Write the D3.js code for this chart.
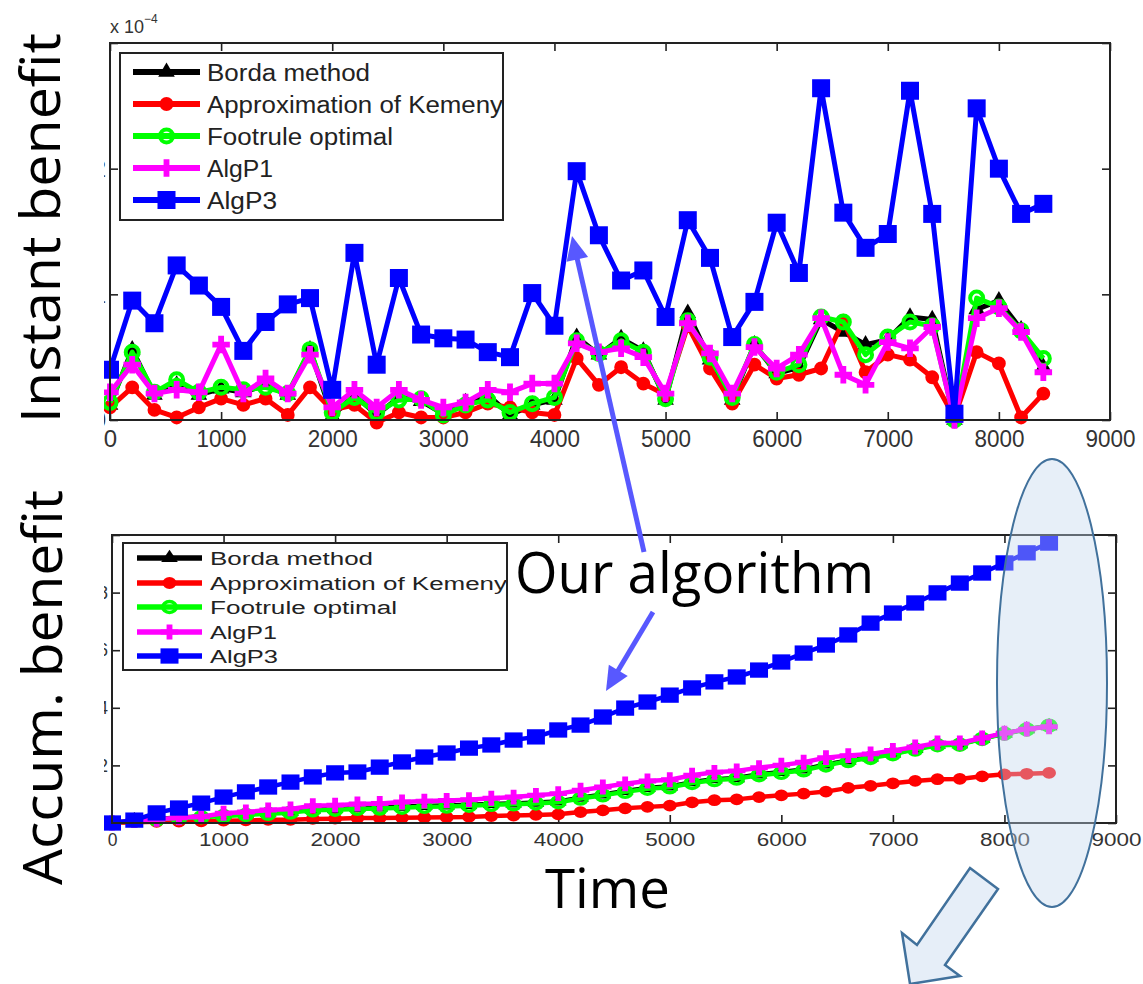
<!DOCTYPE html>
<html>
<head>
<meta charset="utf-8">
<script src="https://cdn.jsdelivr.net/npm/d3@7"></script>
<style>
  body { margin: 0; background: #fff; }
  svg { display: block; }
</style>
</head>
<body>
<svg id="chart" width="1143" height="984"></svg>
<script>
// time steps (x)
const times = [0, 200, 400, 600, 800, 1000, 1200, 1400, 1600, 1800, 2000, 2200, 2400, 2600, 2800,
  3000, 3200, 3400, 3600, 3800, 4000, 4200, 4400, 4600, 4800, 5000, 5200, 5400, 5600, 5800,
  6000, 6200, 6400, 6600, 6800, 7000, 7200, 7400, 7600, 7800, 8000, 8200, 8400]
const xTicks = [0, 1000, 2000, 3000, 4000, 5000, 6000, 7000, 8000, 9000]

const seriesNames = ['Borda method', 'Approximation of Kemeny', 'Footrule optimal', 'AlgP1', 'AlgP3']

// instant benefit (x 10^-4)
const instBorda = [0.12, 0.56, 0.20, 0.28, 0.20, 0.25, 0.22, 0.28, 0.20, 0.56, 0.03, 0.20, 0.04, 0.18, 0.15,
  0.05, 0.14, 0.20, 0.04, 0.12, 0.16, 0.66, 0.52, 0.65, 0.55, 0.16, 0.85, 0.48, 0.16, 0.60,
  0.37, 0.42, 0.80, 0.70, 0.60, 0.64, 0.82, 0.80, 0.00, 0.88, 0.95, 0.72, 0.42]
const instKemeny = [0.10, 0.26, 0.08, 0.02, 0.10, 0.17, 0.12, 0.17, 0.04, 0.26, 0.08, 0.12, -0.02, 0.06, 0.02,
  0.02, 0.06, 0.13, 0.10, 0.06, 0.04, 0.49, 0.28, 0.42, 0.29, 0.20, 0.75, 0.41, 0.13, 0.44,
  0.33, 0.36, 0.41, 0.79, 0.38, 0.52, 0.48, 0.34, 0.02, 0.54, 0.45, 0.02, 0.21]
const instFootrule = [0.14, 0.54, 0.22, 0.32, 0.22, 0.26, 0.24, 0.26, 0.21, 0.56, 0.06, 0.18, 0.06, 0.16, 0.17,
  0.04, 0.12, 0.16, 0.06, 0.13, 0.18, 0.63, 0.53, 0.63, 0.54, 0.17, 0.79, 0.50, 0.18, 0.60,
  0.38, 0.44, 0.82, 0.78, 0.52, 0.66, 0.78, 0.75, 0.00, 0.97, 0.90, 0.71, 0.49]
const instAlgP1 = [0.22, 0.44, 0.21, 0.24, 0.22, 0.60, 0.21, 0.33, 0.21, 0.52, 0.10, 0.24, 0.10, 0.24, 0.16,
  0.10, 0.14, 0.24, 0.22, 0.29, 0.29, 0.61, 0.54, 0.57, 0.50, 0.21, 0.77, 0.53, 0.21, 0.58,
  0.41, 0.52, 0.81, 0.36, 0.28, 0.62, 0.57, 0.74, 0.00, 0.81, 0.89, 0.70, 0.38]
const instAlgP3 = [0.40, 0.95, 0.77, 1.23, 1.07, 0.90, 0.55, 0.78, 0.92, 0.97, 0.24, 1.33, 0.44, 1.13, 0.68,
  0.65, 0.64, 0.54, 0.50, 1.01, 0.75, 1.98, 1.47, 1.11, 1.19, 0.82, 1.59, 1.29, 0.66, 0.94,
  1.57, 1.17, 2.64, 1.65, 1.37, 1.48, 2.62, 1.64, 0.05, 2.48, 2.00, 1.64, 1.72]
const instTicks = [0, 1, 2, 3]

// accumulated benefit
const accBorda = [0, 0.10, 0.14, 0.19, 0.23, 0.27, 0.31, 0.35, 0.39, 0.47, 0.49, 0.52, 0.54, 0.57, 0.59,
  0.61, 0.63, 0.66, 0.68, 0.71, 0.75, 0.88, 0.99, 1.11, 1.22, 1.27, 1.42, 1.52, 1.56, 1.69,
  1.77, 1.86, 2.03, 2.17, 2.28, 2.42, 2.57, 2.72, 2.74, 2.93, 3.11, 3.26, 3.36]
const accKemeny = [0, 0.03, 0.04, 0.05, 0.06, 0.08, 0.09, 0.11, 0.11, 0.14, 0.15, 0.17, 0.17, 0.18, 0.19,
  0.20, 0.21, 0.24, 0.26, 0.28, 0.30, 0.38, 0.44, 0.51, 0.56, 0.60, 0.72, 0.79, 0.82, 0.90,
  0.96, 1.02, 1.09, 1.22, 1.29, 1.38, 1.46, 1.52, 1.53, 1.62, 1.69, 1.71, 1.74]
const accFootrule = [0, 0.08, 0.12, 0.17, 0.20, 0.24, 0.28, 0.32, 0.36, 0.44, 0.46, 0.49, 0.50, 0.53, 0.56,
  0.57, 0.60, 0.63, 0.65, 0.68, 0.72, 0.85, 0.96, 1.08, 1.19, 1.24, 1.39, 1.49, 1.54, 1.66,
  1.74, 1.83, 2.00, 2.15, 2.26, 2.39, 2.55, 2.70, 2.72, 2.92, 3.10, 3.25, 3.38]
const accAlgP1 = [0, 0.09, 0.13, 0.18, 0.22, 0.34, 0.38, 0.45, 0.49, 0.60, 0.62, 0.66, 0.68, 0.73, 0.76,
  0.78, 0.81, 0.86, 0.90, 0.96, 1.02, 1.14, 1.25, 1.36, 1.46, 1.50, 1.66, 1.76, 1.81, 1.92,
  2.01, 2.11, 2.27, 2.34, 2.40, 2.52, 2.64, 2.78, 2.78, 2.95, 3.12, 3.26, 3.34]
const accAlgP3 = [0, 0.10, 0.35, 0.52, 0.69, 0.90, 1.08, 1.25, 1.42, 1.60, 1.74, 1.77, 1.94, 2.12, 2.29,
  2.43, 2.60, 2.71, 2.88, 2.99, 3.23, 3.40, 3.68, 3.99, 4.20, 4.44, 4.69, 4.90, 5.07, 5.31,
  5.59, 5.90, 6.18, 6.53, 6.94, 7.29, 7.64, 7.99, 8.33, 8.68, 9.03, 9.38, 9.72]
const accTicks = [0, 2, 4, 6, 8, 10]

const styles = {
  'Borda method': { color: '#000000', marker: 'triangle' },
  'Approximation of Kemeny': { color: '#ff0000', marker: 'dot' },
  'Footrule optimal': { color: '#00ff00', marker: 'ring' },
  'AlgP1': { color: '#ff00ff', marker: 'plus' },
  'AlgP3': { color: '#0000ff', marker: 'square' }
}

const svg = d3.select('#chart')

drawPanel({
  data: [instBorda, instKemeny, instFootrule, instAlgP1, instAlgP3],
  ticks: instTicks, yMax: 3,
  left: 110, right: 1110, top: 43, bottom: 420,
  tickFont: 24, tickPad: 10, lineWidth: 5, squash: 1,
  legend: { x: 120, y: 53, w: 383, h: 167, lx0: 133, lx1: 200, tx: 207,
    rows: [72, 104, 136, 168, 200], font: 23.5, base: 8.5, widths: [163, 296, 186, 66, 70] }
})

drawPanel({
  data: [accBorda, accKemeny, accFootrule, accAlgP1, accAlgP3],
  ticks: accTicks, yMax: 10,
  left: 112, right: 1116, top: 535, bottom: 823,
  tickFont: 17.5, tickPad: 11, lineWidth: 4.5, squash: 0.85,
  legend: { x: 123, y: 543, w: 384, h: 127, lx0: 137, lx1: 202, tx: 210,
    rows: [558, 583, 607, 632, 656], font: 18, base: 6.5, widths: [163, 297, 187, 67, 68] }
})

// exponent label of the upper plot
svg.append('text')
  .attr('x', 110).attr('y', 33)
  .attr('font-family', 'Liberation Sans, Arial, sans-serif')
  .attr('font-size', 18).attr('fill', '#333')
  .text('x 10')
  .append('tspan').attr('dy', -10).attr('font-size', 12).text('\u22124')

// the slide crops the y tick labels
svg.append('rect').attr('x', 0).attr('y', 0).attr('width', 104).attr('height', 984).attr('fill', '#fff')

const bigFont = 'Open Sans, Noto Sans, sans-serif'

svg.append('text')
  .attr('transform', 'translate(60,423) rotate(-90)')
  .attr('font-family', bigFont).attr('font-size', 55)
  .attr('textLength', 390).attr('lengthAdjust', 'spacingAndGlyphs')
  .text('Instant benefit')

svg.append('text')
  .attr('transform', 'translate(62,885) rotate(-90)')
  .attr('font-family', bigFont).attr('font-size', 55)
  .attr('textLength', 395).attr('lengthAdjust', 'spacingAndGlyphs')
  .text('Accum. benefit')

svg.append('text')
  .attr('x', 545).attr('y', 908)
  .attr('font-family', bigFont).attr('font-size', 54)
  .attr('textLength', 125).attr('lengthAdjust', 'spacingAndGlyphs')
  .text('Time')

svg.append('text')
  .attr('x', 515).attr('y', 593)
  .attr('font-family', bigFont).attr('font-size', 56)
  .attr('textLength', 359).attr('lengthAdjust', 'spacingAndGlyphs')
  .text('Our algorithm')

// pointer arrows to AlgP3
const arrowColor = '#5858ff'
drawArrow([644, 552], [572, 236])
drawArrow([653, 612], [606, 691])

// highlight ellipse over the final values
svg.append('ellipse')
  .attr('cx', 1052).attr('cy', 683).attr('rx', 55).attr('ry', 224)
  .attr('fill', '#c3d8ee').attr('fill-opacity', 0.4)
  .attr('stroke', '#41719c').attr('stroke-width', 2)

// block arrow pointing out of the ellipse
svg.append('polygon')
  .attr('points', [[970, 868], [998, 889], [945, 965], [960, 976], [910, 984], [902, 933], [917, 945]].join(' '))
  .attr('fill', '#e6eef8').attr('stroke', '#41719c').attr('stroke-width', 2.5)
  .attr('stroke-linejoin', 'miter')

function drawArrow(from, to) {
  const dx = to[0] - from[0], dy = to[1] - from[1]
  const len = Math.hypot(dx, dy)
  const ux = dx / len, uy = dy / len
  const headLen = 24, headHalf = 11
  const bx = to[0] - ux * headLen, by = to[1] - uy * headLen
  svg.append('line')
    .attr('x1', from[0]).attr('y1', from[1]).attr('x2', bx + ux * 2).attr('y2', by + uy * 2)
    .attr('stroke', arrowColor).attr('stroke-width', 5)
  svg.append('polygon')
    .attr('points', [to, [bx - uy * headHalf, by + ux * headHalf], [bx + uy * headHalf, by - ux * headHalf]].join(' '))
    .attr('fill', arrowColor)
}

function drawPanel(p) {
  const x = d3.scaleLinear().domain([0, 9000]).range([p.left, p.right])
  const y = d3.scaleLinear().domain([0, p.yMax]).range([p.bottom, p.top])
  const g = svg.append('g')
  const tickLen = 8
  const tickFont = 'Liberation Sans, Arial, sans-serif'
  // the topmost y label is not visible on the slide
  const yFormat = d => d === p.yMax ? '' : d3.format('d')(d)

  g.append('rect')
    .attr('x', p.left).attr('y', p.top)
    .attr('width', p.right - p.left).attr('height', p.bottom - p.top)
    .attr('fill', '#fff')

  // [axis, transform, has labels, label padding]
  const axes = [
    [d3.axisBottom(x).tickValues(xTicks).tickFormat(d3.format('d')), `translate(0,${p.bottom})`, true, p.tickPad],
    [d3.axisTop(x).tickValues(xTicks).tickFormat(''), `translate(0,${p.top})`, false, 0],
    [d3.axisLeft(y).tickValues(p.ticks).tickFormat(yFormat), `translate(${p.left},0)`, true, 4],
    [d3.axisRight(y).tickValues(p.ticks).tickFormat(''), `translate(${p.right},0)`, false, 0]
  ]
  axes.forEach(([axis, tr, labels, pad]) => {
    const a = g.append('g')
      .attr('transform', tr)
      .call(axis.tickSize(-tickLen).tickPadding(pad))
    a.select('.domain').remove()
    a.selectAll('line').attr('stroke', '#222').attr('stroke-width', 1.6)
    a.selectAll('text')
      .attr('font-family', tickFont).attr('font-size', p.tickFont).attr('fill', '#333')
    if (labels) {
      a.selectAll('text')
        .filter(d => String(d).length === 4)
        .attr('textLength', 50).attr('lengthAdjust', 'spacingAndGlyphs')
    }
  })

  const line = d3.line().x((d, i) => x(times[i])).y(d => y(d))

  p.data.forEach((values, k) => {
    const st = styles[seriesNames[k]]
    g.append('path')
      .datum(values)
      .attr('d', line)
      .attr('fill', 'none')
      .attr('stroke', st.color)
      .attr('stroke-width', p.lineWidth)
      .attr('stroke-linejoin', 'round')
    g.selectAll(null)
      .data(values)
      .enter()
      .append('g')
      .attr('transform', (d, i) => `translate(${x(times[i])},${y(d)}) scale(1,${p.squash})`)
      .each(function () { marker(d3.select(this), st.marker, st.color) })
  })

  g.append('rect')
    .attr('x', p.left).attr('y', p.top)
    .attr('width', p.right - p.left).attr('height', p.bottom - p.top)
    .attr('fill', 'none').attr('stroke', '#222').attr('stroke-width', 2)

  // legend
  const L = p.legend
  const lg = g.append('g')
  lg.append('rect')
    .attr('x', L.x).attr('y', L.y).attr('width', L.w).attr('height', L.h)
    .attr('fill', '#fff').attr('stroke', '#222').attr('stroke-width', 2)
  seriesNames.forEach((name, k) => {
    const st = styles[name]
    const ry = L.rows[k]
    lg.append('line')
      .attr('x1', L.lx0).attr('x2', L.lx1).attr('y1', ry).attr('y2', ry)
      .attr('stroke', st.color).attr('stroke-width', p.lineWidth + 1)
    marker(lg.append('g').attr('transform', `translate(${(L.lx0 + L.lx1) / 2},${ry}) scale(1,${p.squash})`), st.marker, st.color)
    lg.append('text')
      .attr('x', L.tx).attr('y', ry + L.base)
      .attr('font-family', tickFont).attr('font-size', L.font).attr('fill', '#222')
      .attr('textLength', L.widths[k]).attr('lengthAdjust', 'spacingAndGlyphs')
      .text(name)
  })
}

function marker(sel, kind, color) {
  if (kind === 'square') {
    sel.append('rect').attr('x', -9).attr('y', -9).attr('width', 18).attr('height', 18).attr('fill', color)
  } else if (kind === 'triangle') {
    sel.append('path').attr('d', d3.symbol(d3.symbolTriangle, 120)()).attr('fill', color)
  } else if (kind === 'dot') {
    sel.append('path').attr('d', d3.symbol(d3.symbolCircle, 150)()).attr('fill', color)
  } else if (kind === 'ring') {
    sel.append('circle').attr('r', 6.5).attr('fill', 'none').attr('stroke', color).attr('stroke-width', 4)
  } else if (kind === 'plus') {
    sel.append('path').attr('d', d3.symbol(d3.symbolCross, 170)()).attr('fill', color)
  }
}
</script>
</body>
</html>
